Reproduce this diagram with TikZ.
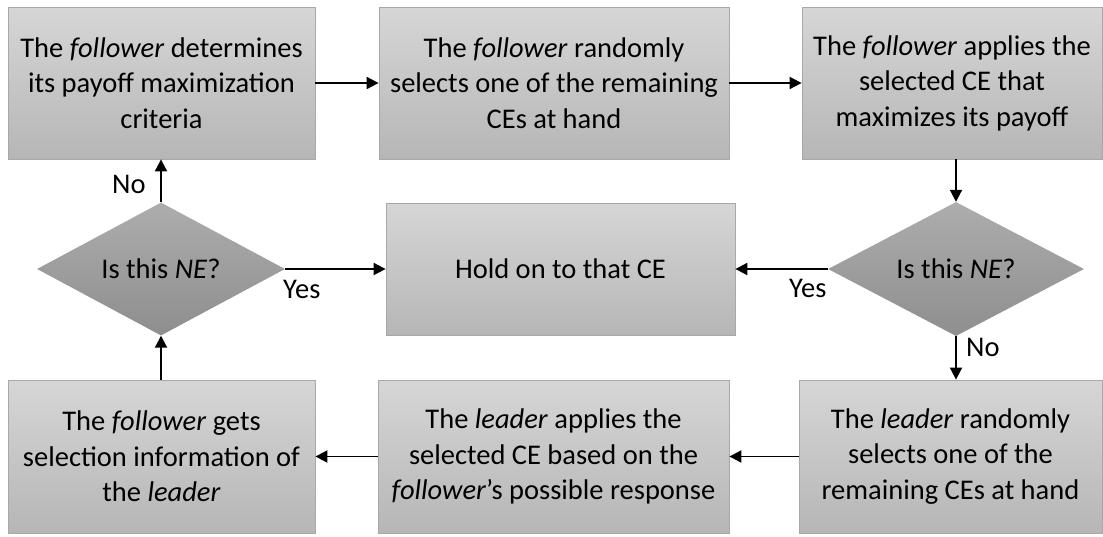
\documentclass[tikz,border=0pt]{standalone}
\usepackage{fontspec}
\setmainfont{Carlito}
\usetikzlibrary{shapes.geometric,arrows.meta}
\definecolor{boxtop}{HTML}{D6D6D6}
\definecolor{boxbot}{HTML}{B6B6B6}
\definecolor{boxline}{HTML}{A8A8A8}
\definecolor{dtop}{HTML}{ADADAD}
\definecolor{dbot}{HTML}{8E8E8E}
\tikzset{
  procbox/.style={rectangle, draw=boxline, line width=0.8pt, top color=boxtop, bottom color=boxbot,
    align=center, inner sep=0pt, font=\fontsize{28.5}{35.5}\selectfont},
  decbox/.style={diamond, draw=none, top color=dtop, bottom color=dbot, inner sep=0pt},
  dectext/.style={font=\fontsize{28.5}{35.5}\selectfont, inner sep=0pt},
  lbl/.style={font=\fontsize{28.5}{35.5}\selectfont, inner sep=0pt},
  conn/.style={line width=1.9pt, -{Triangle[length=12pt,width=12pt]}}
}
\begin{document}
\begin{tikzpicture}[x=1pt,y=-1pt]
\useasboundingbox (0,0) rectangle (1103,536);
% top row
\node[procbox, minimum width=307, minimum height=152] (b1) at (161.5,83)
  {The \textit{follower} determines\\its payoff maximization\\criteria};
\node[procbox, minimum width=350, minimum height=152] (b2) at (554,83)
  {The \textit{follower} randomly\\selects one of the remaining\\CEs at hand};
\node[procbox, minimum width=300, minimum height=152] (b3) at (952,83)
  {The \textit{follower} applies the\\selected CE that\\maximizes its payoff};
% middle row
\node[decbox, minimum width=248, minimum height=133] (dl) at (161,269) {};
\node[dectext] (dlt) at (dl.center) {Is this \textit{NE}?};
\node[procbox, minimum width=349, minimum height=132] (mid) at (560.5,269) {Hold on to that CE};
\node[decbox, minimum width=256, minimum height=134] (dr) at (956,269) {};
\node[dectext] (drt) at (dr.center) {Is this \textit{NE}?};
% bottom row
\node[procbox, minimum width=307, minimum height=153] (c1) at (161.5,456.5)
  {The \textit{follower} gets\\selection information of\\the \textit{leader}};
\node[procbox, minimum width=351, minimum height=153] (c2) at (553.5,456.5)
  {The \textit{leader} applies the\\selected CE based on the\\\textit{follower}'s possible response};
\node[procbox, minimum width=303, minimum height=153] (c3) at (950.5,456.5)
  {The \textit{leader} randomly\\selects one of the\\remaining CEs at hand};
% connectors
\draw[conn] (b1.east) -- (b2.west);
\draw[conn] (b2.east) -- (b3.west);
\draw[conn] (b3.south -| dr.north) -- (dr.north);
\draw[conn] (dr.west) -- (mid.east);
\draw[conn] (dr.south) -- (c3.north -| dr.south);
\draw[conn] (c3.west) -- (c2.east);
\draw[conn] (c2.west) -- (c1.east);
\draw[conn] (c1.north -| dl.south) -- (dl.south);
\draw[conn] (dl.north) -- (b1.south -| dl.north);
\draw[conn] (dl.east) -- (mid.west);
% labels
\node[lbl, anchor=base west] (nol) at (112,193) {No};
\node[lbl, anchor=base west] (yesl) at (283,298) {Yes};
\node[lbl, anchor=base west] (yesr) at (789,297) {Yes};
\node[lbl, anchor=base west] (nor) at (966,356) {No};
\end{tikzpicture}
\end{document}
